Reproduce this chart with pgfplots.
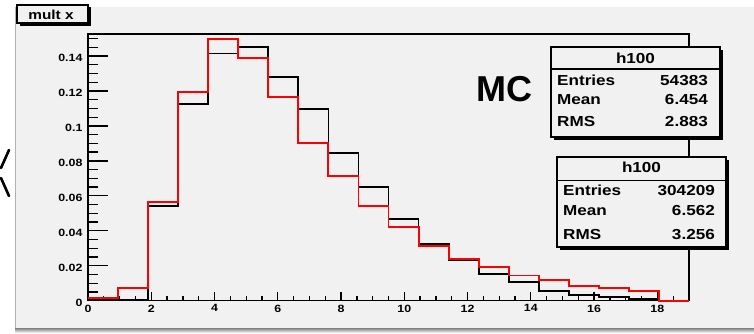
\documentclass[border=0pt]{standalone}
\usepackage{fontspec}
\setmainfont{Liberation Sans}
\newfontfamily\rfb[FakeStretch=1.18]{Liberation Sans Bold}
\newfontfamily\rfbn{Liberation Sans Bold}
\usepackage{pgfplots}
\pgfplotsset{compat=1.18}
\definecolor{canvas}{gray}{0.945}
\definecolor{shade}{gray}{0.62}
\newcommand{\tlf}{\fontsize{10.5}{12}\selectfont\rfb}
\newcommand{\sbf}{\fontsize{14.5}{16}\selectfont\rfb}

\begin{document}
\begin{tikzpicture}[x=1pt,y=1pt]
\path[use as bounding box] (0,0) rectangle (754,333);
\fill[white] (0,0) rectangle (754,333);
\fill[canvas] (15,5) rectangle (754,326);
\fill[shade] (15,0) rectangle (754,5);
\draw[gray!60, line width=1pt] (15.5,5) -- (15.5,326);
\draw[line width=2.6pt, line cap=round] (9,183) -- (1,165);
\draw[line width=2.6pt, line cap=round] (1,155) -- (9,137);

\begin{axis}[
  at={(88pt,32.3pt)}, anchor=south west, scale only axis,
  width=601pt, height=266.7pt,
  xmin=0, xmax=19, ymin=0, ymax=0.1526, clip=false,
  axis line style={line width=1.3pt},
  xtick={0,2,...,18}, minor xtick={0,0.5,...,19}, xtick pos=bottom,
  ytick=\empty,
  major tick length=9pt, minor tick length=4.5pt,
  tick style={line width=1.3pt, black}, tick align=inside,
  ticklabel style={font=\tlf, text=black},
  /pgf/number format/assume math mode=true,
  xticklabel style={yshift=-0.5pt},
]
\addplot[const plot, black, line width=1.8pt] coordinates {
(0,0.0002) (0.95,0.0005) (1.9,0.0543) (2.85,0.1124) (3.8,0.1415) (4.75,0.1450)
(5.7,0.1278) (6.65,0.1098) (7.6,0.0843) (8.55,0.0652) (9.5,0.0467) (10.45,0.0324)
(11.4,0.0235) (12.35,0.0155) (13.3,0.0106) (14.25,0.0057) (15.2,0.0032) (16.15,0.0019)
(17.1,0.0010) (18.05,0) (19,0)};
\addplot[const plot, red, line width=1.9pt] coordinates {
(0,0.0014) (0.95,0.0071) (1.9,0.0566) (2.85,0.1196) (3.8,0.1497) (4.75,0.1387)
(5.7,0.1167) (6.65,0.0904) (7.6,0.0713) (8.55,0.0542) (9.5,0.0420) (10.45,0.0315)
(11.4,0.0238) (12.35,0.0193) (13.3,0.0144) (14.25,0.0118) (15.2,0.0082) (16.15,0.0072)
(17.1,0.0057) (18.05,0) (19,0)};
\end{axis}

\begin{axis}[
  at={(88pt,32.3pt)}, anchor=south west, scale only axis,
  width=601pt, height=266.7pt,
  xmin=0, xmax=19, ymin=0, ymax=0.1526,
  axis line style={draw=none},
  xtick=\empty,
  ytick={0,0.02,0.04,0.06,0.08,0.1,0.12,0.14},
  yticklabels={0,0.02,0.04,0.06,0.08,0.1,0.12,0.14},
  minor ytick={0,0.005,...,0.1501}, ytick pos=left,
  major tick length=20pt, minor tick length=10pt,
  tick style={line width=1.3pt, black}, tick align=inside,
  ticklabel style={font=\tlf, text=black},
  /pgf/number format/assume math mode=true,
  yticklabel style={xshift=-2pt, yshift=-2pt},
]
\addplot[draw=none] coordinates {(0,0)};
\end{axis}

% title box
\fill[black] (19.5,307.5) rectangle (90.5,325.5);
\filldraw[fill=canvas, draw=black, line width=1.3pt] (17,310) rectangle (88,328);
\node at (51,318.5) {\fontsize{13}{15}\selectfont\rfb mult x};

% MC
\node at (504.5,244) {\fontsize{36}{40}\selectfont\rfbn MC};

% stats box 1
\fill[black] (554,193) rectangle (723,283);
\filldraw[fill=canvas, draw=black, line width=1.3pt] (551,196) rectangle (720,286);
\draw[line width=1.3pt] (551,264) -- (720,264);
\node at (635.5,275) {\sbf h100};
\node[anchor=west, inner sep=0pt] at (557,252.3) {\sbf Entries};
\node[anchor=east, inner sep=0pt] at (708,252.3) {\sbf 54383};
\node[anchor=west, inner sep=0pt] at (557,233) {\sbf Mean};
\node[anchor=east, inner sep=0pt] at (708,233) {\sbf 6.454};
\node[anchor=west, inner sep=0pt] at (557,211.3) {\sbf RMS};
\node[anchor=east, inner sep=0pt] at (708,211.3) {\sbf 2.883};

% stats box 2
\fill[black] (560,83) rectangle (729,173);
\filldraw[fill=canvas, draw=black, line width=1.3pt] (557,86) rectangle (726,176);
\draw[line width=1.3pt] (557,152.3) -- (726,152.3);
\node at (641.5,165.3) {\sbf h100};
\node[anchor=west, inner sep=0pt] at (563,142.3) {\sbf Entries};
\node[anchor=east, inner sep=0pt] at (715,142.3) {\sbf 304209};
\node[anchor=west, inner sep=0pt] at (563,122) {\sbf Mean};
\node[anchor=east, inner sep=0pt] at (715,122) {\sbf 6.562};
\node[anchor=west, inner sep=0pt] at (563,98) {\sbf RMS};
\node[anchor=east, inner sep=0pt] at (715,98) {\sbf 3.256};
\end{tikzpicture}
\end{document}
